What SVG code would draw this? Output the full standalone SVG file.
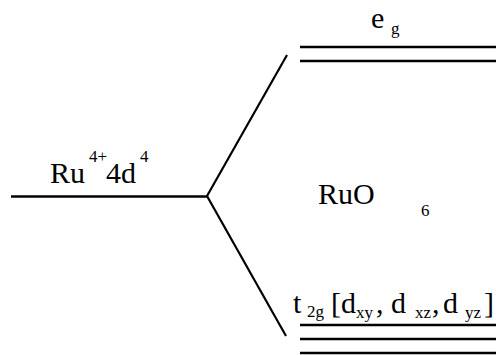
<svg xmlns="http://www.w3.org/2000/svg" width="496" height="355" viewBox="0 0 496 355">
<style>
text{fill:#000;font-family:"Liberation Serif","Times New Roman","DejaVu Serif",serif}
.big{font-size:30px}
.sm{font-size:17px}
.lvl{stroke:#000;stroke-width:2.6;fill:none}
.diag{stroke:#000;stroke-width:2.2;fill:none}
</style>
<rect width="496" height="355" fill="#fff"/>
<g id="connectors">
<line class="diag" x1="207" y1="196" x2="287" y2="55"/>
<line class="diag" x1="207" y1="196" x2="286" y2="336"/>
</g>
<g id="ru-level">
<line class="lvl" x1="11" y1="196.5" x2="208" y2="196.5"/>
<text class="big" x="50" y="183">Ru<tspan class="sm" x="89" y="162">4+</tspan><tspan x="106" y="183">4d</tspan><tspan class="sm" x="140" y="162">4</tspan></text>
</g>
<g id="eg-level">
<line class="lvl" x1="300" y1="47" x2="496" y2="47"/>
<line class="lvl" x1="300" y1="61" x2="496" y2="61"/>
<text class="big" x="371" y="28">e<tspan class="sm" x="391" y="34">g</tspan></text>
</g>
<g id="ruo6">
<text class="big" x="318" y="204">RuO<tspan class="sm" x="421" y="216">6</tspan></text>
</g>
<g id="t2g-level">
<line class="lvl" x1="300" y1="325" x2="496" y2="325"/>
<line class="lvl" x1="300" y1="339" x2="496" y2="339"/>
<line class="lvl" x1="300" y1="353" x2="496" y2="353"/>
<text class="big" x="293" y="313">t<tspan class="sm" x="307" y="317">2g</tspan><tspan x="331" y="313">[d</tspan><tspan class="sm" x="356" y="318">xy</tspan><tspan x="376" y="313">,</tspan><tspan x="391" y="313">d</tspan><tspan class="sm" x="415" y="318">xz</tspan><tspan x="432" y="313">,</tspan><tspan x="443" y="313">d</tspan><tspan class="sm" x="465" y="318">yz</tspan><tspan x="484" y="313">]</tspan></text>
</g>
</svg>
